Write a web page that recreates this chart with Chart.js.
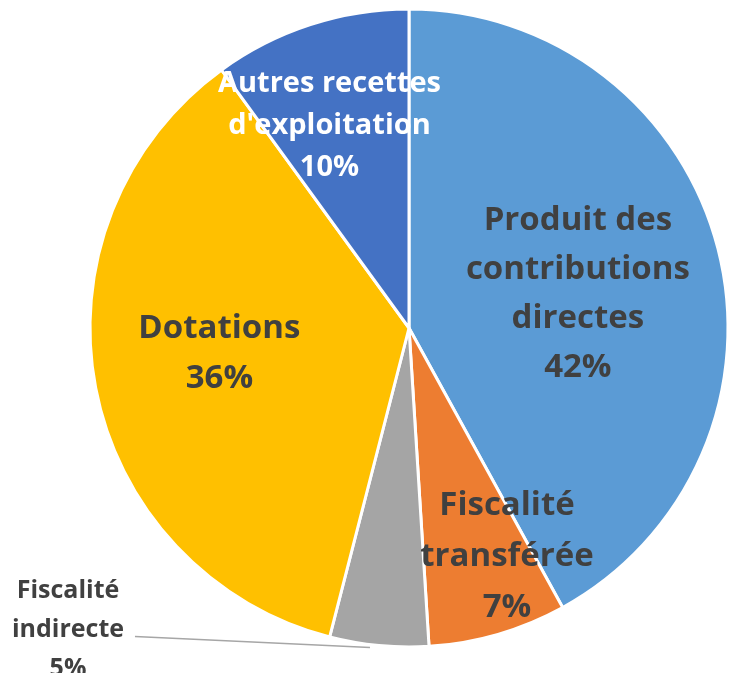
<!DOCTYPE html>
<html><head><meta charset="utf-8">
<script src="https://cdn.jsdelivr.net/npm/chart.js@4"></script>
<style>html,body{margin:0;padding:0;background:#fff}#wrap{width:734px;height:673px;position:relative}</style>
</head><body><div id="wrap"><canvas id="c" width="734" height="673"></canvas></div>
<script>
const categories = ["Produit des contributions directes","Fiscalité transférée","Fiscalité indirecte","Dotations","Autres recettes d'exploitation"];
const values = [42, 7, 5, 36, 10];
const labelLines = [["Produit des","contributions","directes"],["Fiscalité","transférée"],["Fiscalité","indirecte"],["Dotations"],["Autres recettes","d'exploitation"]];
const colors = ["#5B9BD5","#ED7D31","#A5A5A5","#FFC000","#4472C4"];
const textColors = ["#404040","#404040","#404040","#404040","#FFFFFF"];
// label placement: angle offset (deg) and radial fraction
const place = [{da:3,rf:0.54,size:33,lh:49},{da:-7,rf:0.78,size:33,lh:51},{outside:true,size:25,lh:39},{da:3,rf:0.6,size:33,lh:50},{da:-3.5,rf:0.68,size:29,lh:42}];

const labelPlugin = {
  id:'sliceLabels',
  afterDatasetsDraw(chart){
    const ctx = chart.ctx;
    const meta = chart.getDatasetMeta(0);
    const total = values.reduce((a,b)=>a+b,0);
    meta.data.forEach((arc,i)=>{
      const p = arc.getProps(['x','y','startAngle','endAngle','outerRadius']);
      const pct = Math.round(values[i]/total*100)+'%';
      const lines = labelLines[i].concat([pct]);
      const pl = place[i];
      ctx.save();
      ctx.font = 'bold '+pl.size+'px "Open Sans", sans-serif';
      ctx.fillStyle = textColors[i];
      ctx.textAlign = 'center';
      ctx.textBaseline = 'middle';
      let cx, cy;
      const mid = (p.startAngle+p.endAngle)/2;
      if(pl.outside){
        const ex = p.x + Math.cos(mid)*p.outerRadius;
        const ey = p.y + Math.sin(mid)*p.outerRadius;
        const sx = ex - 9, sy = ey + 2;
        const lx = p.x - 274, ly = ey - 9;
        ctx.strokeStyle = '#A6A6A6';
        ctx.lineWidth = 1.5;
        ctx.beginPath(); ctx.moveTo(sx,sy); ctx.lineTo(lx,ly); ctx.stroke();
        cx = lx - 67; cy = ly - 7;
      } else {
        const a = mid + pl.da*Math.PI/180;
        cx = p.x + Math.cos(a)*p.outerRadius*pl.rf;
        cy = p.y + Math.sin(a)*p.outerRadius*pl.rf;
      }
      const n = lines.length;
      lines.forEach((t,k)=>{
        ctx.fillText(t, cx, cy + (k-(n-1)/2)*pl.lh);
      });
      ctx.restore();
    });
  }
};

new Chart(document.getElementById('c'),{
  type:'pie',
  data:{labels:categories,datasets:[{data:values,backgroundColor:colors,borderColor:'#FFFFFF',borderWidth:3,radius:319}]},
  options:{
    responsive:false,animation:false,
    layout:{padding:{left:84,right:0,top:10,bottom:27}},
    plugins:{legend:{display:false},tooltip:{enabled:false}}
  },
  plugins:[labelPlugin]
});
</script></body></html>
